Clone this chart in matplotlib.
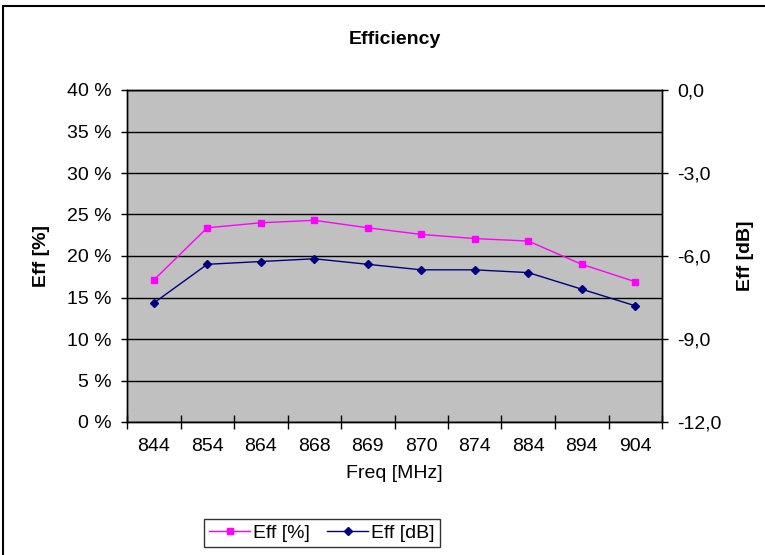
import matplotlib.pyplot as plt
from matplotlib.patches import Rectangle
from matplotlib.ticker import FixedLocator

plt.rcParams['font.family'] = ['Liberation Sans', 'DejaVu Sans']

freqs = ['844', '854', '864', '868', '869', '870', '874', '884', '894', '904']
eff_pct = [17.1, 23.4, 24.0, 24.3, 23.4, 22.6, 22.1, 21.8, 19.0, 16.9]
eff_db = [-7.7, -6.3, -6.2, -6.1, -6.3, -6.5, -6.5, -6.6, -7.2, -7.8]
pct_ticks = [0, 5, 10, 15, 20, 25, 30, 35, 40]
db_ticks = [0, -3, -6, -9, -12]

FS = 14

fig = plt.figure(figsize=(7.65, 5.55), dpi=100)
ax = fig.add_axes([127 / 765, 1 - 422 / 555, 535 / 765, 332 / 555])
ax2 = ax.twinx()

x = list(range(len(freqs)))
ax.set_facecolor('#C0C0C0')
l1, = ax.plot(x, eff_pct, color='#FF00FF', marker='s', ms=5, lw=1,
              label='Eff [%]')
l2, = ax2.plot(x, eff_db, color='#000080', marker='D', ms=4, lw=1,
               label='Eff [dB]')

ax.set_xlim(-0.5, len(freqs) - 0.5)
ax.set_ylim(0, 40)
ax.set_yticks(pct_ticks)
ax.set_yticklabels([f'{t} %' for t in pct_ticks])
ax.yaxis.grid(True, color='black', lw=1)
ax.set_axisbelow(True)
ax.set_xticks(x)
ax.set_xticklabels(freqs)
ax.tick_params(axis='x', which='major', length=0, pad=11.5)
ax.xaxis.set_minor_locator(FixedLocator([i + 0.5 for i in range(-1, len(freqs))]))
ax.tick_params(axis='x', which='minor', direction='inout', length=10, width=1)
ax.tick_params(axis='y', direction='out', length=4.5, width=1, pad=6.5)

ax2.set_ylim(-12, 0)
ax2.set_yticks(db_ticks)
ax2.set_yticklabels([f'{t:.1f}'.replace('.', ',') for t in db_ticks])
ax2.tick_params(axis='y', direction='out', length=4.5, width=1, pad=6.5)

for a in (ax, ax2):
    for s in a.spines.values():
        s.set_color('black')
        s.set_linewidth(1)
    a.tick_params(labelsize=FS, colors='black')

ax.set_ylabel('Eff [%]', fontsize=FS, fontweight='bold', labelpad=12)
ax2.set_ylabel('Eff [dB]', fontsize=FS, fontweight='bold', labelpad=11)
ax.set_xlabel('Freq [MHz]', fontsize=FS, labelpad=7)
ax.set_title('Efficiency', fontsize=FS, fontweight='bold', pad=33)

leg = fig.legend(handles=[l1, l2], loc='center', bbox_to_anchor=(322 / 765, 1 - 533 / 555),
                 ncol=2, frameon=True, fancybox=False, edgecolor='black',
                 fontsize=FS, handlelength=2.1, columnspacing=0.9,
                 handletextpad=0.15, borderpad=0.25, borderaxespad=0)
leg.get_frame().set_linewidth(1)

fig.patches.append(Rectangle((3 / 765, -0.1), 1.1, 1 - 6 / 555 + 0.1,
                             transform=fig.transFigure, fill=False,
                             edgecolor='black', lw=1.5))

fig.savefig('out.png', dpi=100)
